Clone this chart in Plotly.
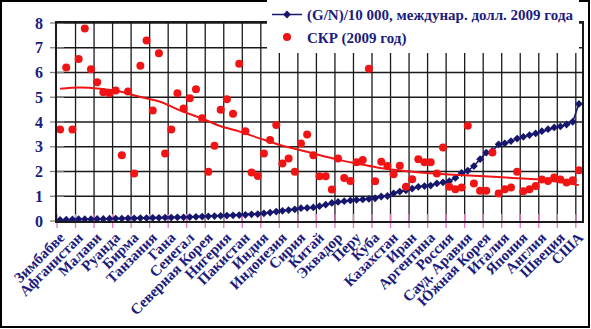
import plotly.graph_objects as go

# Every third country is named on the axis (85 countries in total, ordered by income)
labeled_countries = [
    "Зимбабве", "Афганистан", "Малави", "Руанда", "Бирма", "Танзания", "Гана",
    "Сенегал", "Северная Корея", "Нигерия", "Пакистан", "Индия", "Индонезия",
    "Сирия", "Китай", "Эквадор", "Перу", "Куба", "Казахстан", "Иран",
    "Аргентина", "Россия", "Сауд. Аравия", "Южная Корея", "Италия", "Япония",
    "Англия", "Швеция", "США",
]
label_step = 3

# (G/N)/10 000, international dollars of 2009
gni = [
    0.04, 0.05, 0.06, 0.07, 0.07, 0.07, 0.08, 0.08, 0.09, 0.10,
    0.10, 0.11, 0.11, 0.12, 0.12, 0.13, 0.13, 0.14, 0.14, 0.15,
    0.15, 0.16, 0.17, 0.18, 0.19, 0.20, 0.21, 0.22, 0.23, 0.24,
    0.25, 0.27, 0.28, 0.31, 0.34, 0.38, 0.41, 0.44, 0.47, 0.52,
    0.53, 0.55, 0.60, 0.66, 0.73, 0.77, 0.80, 0.83, 0.85, 0.87,
    0.89, 0.92, 0.99, 1.01, 1.12, 1.19, 1.24, 1.31, 1.38, 1.41,
    1.43, 1.52, 1.56, 1.61, 1.74, 1.94, 2.03, 2.22, 2.50, 2.76,
    2.83, 3.10, 3.14, 3.23, 3.33, 3.40, 3.47, 3.54, 3.63, 3.71,
    3.78, 3.82, 3.90, 4.01, 4.73,
]

# Total fertility rate (СКР), 2009
tfr = [
    3.70, 6.20, 3.70, 6.55, 7.78, 6.13, 5.61, 5.20, 5.16, 5.27,
    2.66, 5.23, 1.92, 6.27, 7.29, 4.46, 6.78, 2.73, 3.70, 5.16,
    4.55, 4.96, 5.32, 4.15, 1.99, 3.04, 4.50, 4.92, 4.33, 6.35,
    3.63, 1.96, 1.82, 2.73, 3.27, 3.88, 2.32, 2.53, 1.99, 3.13,
    3.50, 2.66, 1.81, 1.81, 1.27, 2.53, 1.74, 1.62, 2.37, 2.46,
    6.15, 1.61, 2.39, 2.22, 1.89, 2.23, 1.38, 1.69, 2.50, 2.37,
    2.37, 1.92, 2.97, 1.38, 1.28, 1.35, 3.85, 1.52, 1.22, 1.22,
    2.77, 1.11, 1.28, 1.35, 1.99, 1.20, 1.28, 1.41, 1.68, 1.62,
    1.76, 1.68, 1.56, 1.65, 2.05,
]

# Trend line of the fertility rate
trend_pos = [0, 3.2, 6.5, 9.7, 12.9, 16.2, 19.4, 22.6, 25.9, 29.1, 32.3, 35.6,
             38.8, 42.1, 45.3, 48.5, 51.8, 57.1, 62.3, 67.9, 73.3, 78.8, 84]
trend_val = [5.34, 5.39, 5.34, 5.23, 5.02, 4.82, 4.47, 4.18, 3.84, 3.61, 3.34,
             3.07, 2.87, 2.66, 2.46, 2.30, 2.14, 1.99, 1.89, 1.82, 1.74, 1.65, 1.45]

y_ticks = [0, 1, 2, 3, 4, 5, 6, 7, 8]

n = len(gni)
x = list(range(n))
navy = "#16166e"
text_navy = "#1c1c7c"
red = "#f01414"
serif = "Liberation Serif"
grid = "#1a1a1a"

W, H = 591, 329
L, R, T, B = 57, 9, 23, 108

label_pos = list(range(0, n, label_step))
bounds = [i - 0.5 for i in range(0, n, label_step)]
x_lo, x_hi = -0.5, n - 0.5
y_lo, y_hi = y_ticks[0], y_ticks[-1]

fig = go.Figure()

# grid lines, each drawn as its own two-point line under the data
for b in bounds[1:]:
    fig.add_trace(go.Scatter(
        x=[b, b], y=[y_lo, y_hi], mode="lines",
        line=dict(color=grid, width=1.3),
        showlegend=False, hoverinfo="skip",
    ))
for v in y_ticks[1:]:
    fig.add_trace(go.Scatter(
        x=[x_lo, x_hi], y=[v, v], mode="lines",
        line=dict(color=grid, width=1.3),
        showlegend=False, hoverinfo="skip",
    ))

# tick marks sticking out of the axes
fig.add_trace(go.Scatter(
    x=bounds, y=[y_lo] * len(bounds), mode="markers", cliponaxis=False,
    marker=dict(symbol="line-ns-open", size=10,
                line=dict(color=grid, width=1.3)),
    showlegend=False, hoverinfo="skip",
))
fig.add_trace(go.Scatter(
    x=[x_lo] * len(y_ticks), y=y_ticks, mode="markers", cliponaxis=False,
    marker=dict(symbol="line-ew-open", size=10,
                line=dict(color=grid, width=1.3)),
    showlegend=False, hoverinfo="skip",
))

fig.add_trace(go.Scatter(
    x=x, y=gni, mode="lines+markers",
    name="(G/N)/10 000, междунар. долл. 2009 года",
    line=dict(color=navy, width=1.5),
    marker=dict(symbol="diamond", size=6, color=navy),
))
fig.add_trace(go.Scatter(
    x=x, y=tfr, mode="markers", name="СКР (2009 год)",
    marker=dict(symbol="circle", size=8, color=red),
))
fig.add_trace(go.Scatter(
    x=trend_pos, y=trend_val, mode="lines", showlegend=False,
    line=dict(color=red, width=2, shape="spline"),
))

fig.update_layout(
    template="none",
    width=W, height=H,
    margin=dict(l=L, r=R, t=T, b=B, autoexpand=False),
    paper_bgcolor="white", plot_bgcolor="white",
    xaxis=dict(
        range=[x_lo, x_hi], tickmode="array", tickvals=label_pos,
        ticktext=labeled_countries, tickangle=-45, ticks="",
        showgrid=False, zeroline=False,
        showline=True, linecolor=grid, linewidth=1.5, mirror=True,
        tickfont=dict(family=serif, size=15, color=text_navy, weight="bold"),
        automargin=False,
    ),
    yaxis=dict(
        range=[y_lo, y_hi], tickmode="array", tickvals=y_ticks,
        ticks="", showgrid=False, zeroline=False,
        showline=True, linecolor=grid, linewidth=1.5, mirror=True,
        tickfont=dict(family=serif, size=16, color=text_navy, weight="bold"),
        ticklabelstandoff=9,
        automargin=False,
    ),
    legend=dict(
        x=0.40, y=1.125, xanchor="left", yanchor="top",
        bgcolor="white", borderwidth=0,
        font=dict(family=serif, size=15, color=text_navy, weight="bold"),
        tracegroupgap=0,
    ),
)

# frame around the whole chart
PW, PH = W - L - R, H - T - B
fig.add_shape(
    type="rect", xref="paper", yref="paper",
    x0=(1 - L) / PW, x1=(W - 2 - L) / PW,
    y0=(PH + T - (H - 2)) / PH, y1=(PH + T - 1) / PH,
    line=dict(color="black", width=2), fillcolor="rgba(0,0,0,0)",
    layer="above",
)

fig.write_html("out.html")
